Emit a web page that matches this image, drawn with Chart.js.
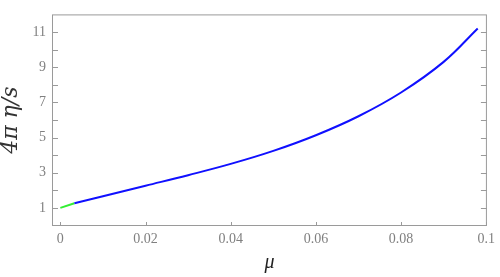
<!DOCTYPE html>
<html>
<head>
<meta charset="utf-8">
<script src="https://cdn.jsdelivr.net/npm/chart.js@4/dist/chart.umd.min.js"></script>
<style>
  body { margin: 0; background: #fff; }
  canvas { display: block; }
</style>
</head>
<body>
<canvas id="grafico" width="500" height="277"></canvas>
<script>
// data
const greenX = [0, 0.0033];
const greenY = [1.0, 1.26];
const blueX = [0.0033, 0.01, 0.02, 0.03, 0.04, 0.05, 0.06, 0.07, 0.08, 0.09, 0.098];
const blueY = [1.26, 1.66, 2.26, 2.86, 3.50, 4.24, 5.13, 6.21, 7.56, 9.30, 11.2];
const xTicks = [0, 0.02, 0.04, 0.06, 0.08, 0.1];
const yTicks = [1, 2, 3, 4, 5, 6, 7, 8, 9, 10, 11];
const yLabeled = [1, 3, 5, 7, 9, 11];

const pares = (xs, ys) => xs.map((x, i) => ({ x: x, y: ys[i] }));

// frame with inward ticks, Mathematica style
const marco = {
    id: 'marco',
    afterDraw(chart) {
        const { ctx, chartArea: a, scales } = chart;
        ctx.save();
        ctx.strokeStyle = '#9a9a9a';
        ctx.lineWidth = 1;
        ctx.strokeRect(a.left + 0.5, a.top + 0.5, a.right - a.left - 1, a.bottom - a.top - 1);
        ctx.beginPath();
        yTicks.forEach(v => {
            const py = Math.round(scales.y.getPixelForValue(v)) + 0.5;
            ctx.moveTo(a.left, py); ctx.lineTo(a.left + 6, py);
            ctx.moveTo(a.right, py); ctx.lineTo(a.right - 6, py);
        });
        xTicks.forEach(v => {
            const px = Math.round(scales.x.getPixelForValue(v)) + 0.5;
            ctx.moveTo(px, a.bottom); ctx.lineTo(px, a.bottom - 4);
        });
        ctx.stroke();
        ctx.restore();
    }
};

const tickFont = { family: "'Liberation Serif', 'DejaVu Serif', serif", size: 14 };

new Chart(document.getElementById('grafico'), {
    type: 'scatter',
    data: {
        datasets: [
            {
                data: pares(blueX, blueY),
                showLine: true,
                borderColor: '#1010ff',
                borderWidth: 2,
                pointRadius: 0,
                tension: 0.4
            },
            {
                data: pares(greenX, greenY),
                showLine: true,
                borderColor: '#33ee33',
                borderWidth: 2,
                pointRadius: 0
            }
        ]
    },
    options: {
        responsive: false,
        animation: false,
        devicePixelRatio: 1,
        layout: { padding: { top: 7, right: 10, left: 0, bottom: 0 } },
        plugins: { legend: { display: false }, tooltip: { enabled: false } },
        scales: {
            x: {
                type: 'linear',
                min: -0.00196,
                max: 0.10016,
                afterBuildTicks: s => { s.ticks = xTicks.map(v => ({ value: v })); },
                afterFit: s => { s.height = 51; },
                grid: { display: false, drawTicks: false },
                border: { display: false },
                ticks: {
                    color: '#808080',
                    font: tickFont,
                    padding: 5,
                    maxRotation: 0,
                    callback: v => String(Number(v.toFixed(2)))
                },
                title: {
                    display: true,
                    text: 'μ',
                    color: '#222',
                    font: { family: "'Liberation Serif', serif", size: 20, style: 'italic', lineHeight: 1 },
                    padding: { top: 0, bottom: 4 }
                }
            },
            y: {
                type: 'linear',
                min: -0.03,
                max: 12,
                afterBuildTicks: s => { s.ticks = yTicks.map(v => ({ value: v })); },
                afterFit: s => { s.width = 52; },
                grid: { display: false, drawTicks: false },
                border: { display: false },
                ticks: {
                    color: '#808080',
                    font: tickFont,
                    padding: 6,
                    callback: v => yLabeled.includes(v) ? String(v) : ''
                },
                title: {
                    display: true,
                    text: '4π η/s',
                    color: '#333',
                    font: { family: "'DejaVu Serif', serif", size: 22, style: 'italic', lineHeight: 1 },
                    padding: { top: 0, bottom: 0 }
                }
            }
        }
    },
    plugins: [marco]
});
</script>
</body>
</html>
